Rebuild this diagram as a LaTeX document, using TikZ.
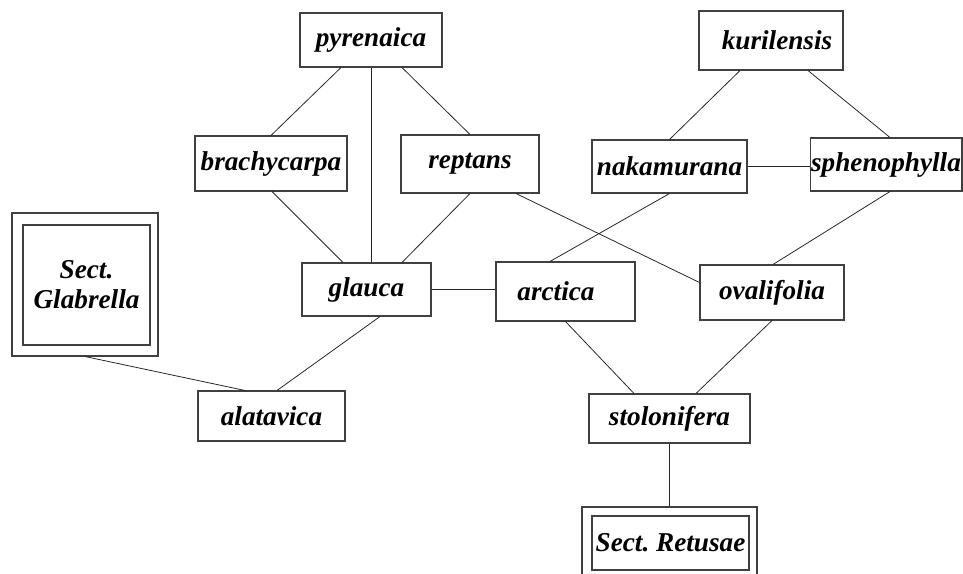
\documentclass[tikz,border=0pt]{standalone}
\usepackage{fontspec}
\setmainfont{Liberation Serif}
\usetikzlibrary{calc}

\begin{document}
\begin{tikzpicture}[x=0.02cm, y=-0.02cm,
		taxon/.style={draw=black!75, line width=0.6pt, inner sep=0pt, align=center,
			font=\fontsize{15.5}{17}\selectfont\bfseries\itshape},
		link/.style={black!85, line width=0.45pt}]
		\useasboundingbox (0,0) rectangle (963,574);

		%species boxes, top row -> bottom row
		\node[taxon, minimum width=2.84cm, minimum height=1.08cm] (pyr) at (371,40) {pyrenaica};
		\node[taxon, minimum width=2.88cm, minimum height=1.18cm] (kur) at (771,40.5) {\hspace{0.24cm}kurilensis};
		\node[taxon, minimum width=3.04cm, minimum height=1.1cm] (bra) at (271,163.5) {brachycarpa};
		\node[taxon, minimum width=2.76cm, minimum height=1.16cm] (rep) at (470,164) {reptans};
		\node[taxon, minimum width=3.1cm, minimum height=1.06cm] (nak) at (669.5,166.5) {nakamurana};
		\node[taxon, minimum width=3.04cm, minimum height=1.06cm] (sph) at (886,164.5) {sphenophylla};
		\node[taxon, minimum width=2.58cm, minimum height=1.06cm] (gla) at (366.5,289.5) {glauca};
		\node[taxon, minimum width=2.78cm, minimum height=1.18cm] (arc) at (565.5,291.5) {arctica\hspace{0.38cm}};
		\node[taxon, minimum width=2.88cm, minimum height=1.1cm] (ova) at (772,292.5) {ovalifolia};
		\node[taxon, minimum width=2.94cm, minimum height=1.0cm] (ala) at (271.5,416) {alatavica};
		\node[taxon, minimum width=3.22cm, minimum height=0.98cm] (sto) at (669.5,418.5) {stolonifera};

		%sections, double frame
		\node[taxon, minimum width=2.92cm, minimum height=2.86cm] (gab) at (85,284.5) {};
		\node[taxon, minimum width=2.54cm, minimum height=2.4cm] (gabin) at (86.5,285) {Sect.\\Glabrella};
		\node[taxon, minimum width=3.5cm, minimum height=1.44cm] (ret) at (669.5,543) {};
		\node[taxon, minimum width=3.14cm, minimum height=1.08cm] (retin) at (670.5,543) {Sect.\ Retusae};

		\draw[link] ($(pyr.south)+(-30,0)$) -- (bra.north);
		\draw[link] (pyr.south) -- (pyr.south |- gla.north);
		\draw[link] ($(pyr.south)+(31,0)$) -- (rep.north);
		\draw[link] ($(bra.south)+(1,0)$) -- ($(gla.north)+(-23.5,0)$);
		\draw[link] (rep.south) -- ($(gla.north)+(35.5,0)$);
		\draw[link] (gla.east) -- (gla.east -| arc.west);
		\draw[link] ($(kur.south)+(-31,0)$) -- (nak.north);
		\draw[link] ($(kur.south)+(37,0)$) -- ($(sph.north)+(4,0)$);
		\draw[link] (nak.east) -- (nak.east -| sph.west);
		\draw[link] (nak.south) -- ($(arc.north)+(-15.5,0)$);
		\draw[link] ($(rep.south)+(46,0)$) -- ($(ova.west)+(0,-10)$);
		\draw[link] ($(sph.south)+(4,0)$) -- ($(ova.north)+(1,0)$);
		\draw[link] (arc.south) -- ($(sto.north)+(-35.5,0)$);
		\draw[link] (ova.south) -- ($(sto.north)+(26.5,0)$);
		\draw[link] (sto.south) -- (ret.north);
		\draw[link] (gab.south) -- ($(ala.north)+(-26.5,0)$);
		\draw[link] ($(gla.south)+(13.5,0)$) -- ($(ala.north)+(5.5,0)$);
	\end{tikzpicture}
\end{document}
